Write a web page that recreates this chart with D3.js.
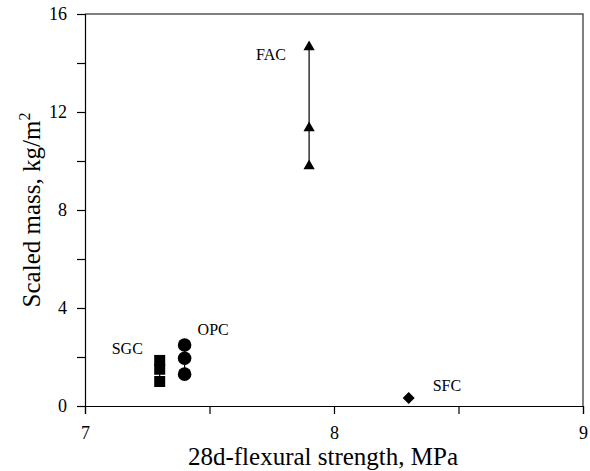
<!DOCTYPE html>
<html>
<head>
<meta charset="utf-8">
<script src="https://cdn.jsdelivr.net/npm/d3@7"></script>
<style>
  body { margin: 0; background: #fff; }
  text { font-family: "Liberation Serif", "Times New Roman", serif; fill: #000; }
</style>
</head>
<body>
<script>
var w = 590, h = 471;
var margin = { left: 85, right: 7, top: 14, bottom: 65 };

// strength (MPa) and scaled mass (kg/m2) per mix
var facX = [7.9, 7.9, 7.9],  facY = [14.65, 11.35, 9.8];
var opcX = [7.4, 7.4, 7.4],  opcY = [2.49, 1.95, 1.3];
var sgcX = [7.3, 7.3, 7.3],  sgcY = [1.86, 1.5, 1.0];
var sfcX = [8.3],            sfcY = [0.33];

var xTicks = [7, 8, 9], xMinor = [7.5, 8.5];
var yTicks = [0, 4, 8, 12, 16], yMinor = [2, 6, 10, 14];

var series = [
  { name: 'FAC', x: facX, y: facY, sym: d3.symbolTriangle, size: 55, rot: 0, lab: [-53, 13] },
  { name: 'OPC', x: opcX, y: opcY, sym: d3.symbolCircle, size: 145, rot: 0, lab: [13, -10] },
  { name: 'SGC', x: sgcX, y: sgcY, sym: d3.symbolSquare, size: 121, rot: 0, lab: [-48, -6] },
  { name: 'SFC', x: sfcX, y: sfcY, sym: d3.symbolSquare, size: 72, rot: 45, lab: [24, -7] }
];

var svg = d3.select('body').append('svg')
  .attr('width', w)
  .attr('height', h);

var x = d3.scaleLinear().domain([7, 9]).range([margin.left, w - margin.right]);
var y = d3.scaleLinear().domain([0, 16]).range([h - margin.bottom, margin.top]);

// frame on top and right
svg.append('path')
  .attr('d', 'M' + x(7) + ',' + y(16) + 'H' + x(9) + 'V' + y(0))
  .attr('fill', 'none')
  .attr('stroke', '#555')
  .attr('stroke-width', 1.5);

var xAxis = svg.append('g')
  .attr('transform', 'translate(0,' + y(0) + ')')
  .call(d3.axisBottom(x).tickValues(xTicks.concat(xMinor)).tickSize(8).tickPadding(12)
    .tickFormat(function(d) { return xTicks.indexOf(d) >= 0 ? d : ''; }));

var yAxis = svg.append('g')
  .attr('transform', 'translate(' + x(7) + ',0)')
  .call(d3.axisLeft(y).tickValues(yTicks.concat(yMinor)).tickSize(8).tickPadding(10)
    .tickFormat(function(d) { return yTicks.indexOf(d) >= 0 ? d : ''; }));

[xAxis, yAxis].forEach(function(g) {
  g.select('.domain').attr('stroke', '#000').attr('stroke-width', 1.2);
  g.selectAll('.tick line').attr('stroke', '#000').attr('stroke-width', 1.2);
  g.selectAll('.tick text')
    .style('font-family', '"Liberation Serif", serif')
    .style('font-size', '18px')
    .attr('fill', '#000');
});

var line = d3.line()
  .x(function(d) { return x(d[0]); })
  .y(function(d) { return y(d[1]); });

series.forEach(function(s) {
  var pts = s.x.map(function(v, i) { return [v, s.y[i]]; });
  if (pts.length > 1) {
    svg.append('path')
      .attr('d', line(pts))
      .attr('fill', 'none')
      .attr('stroke', '#000')
      .attr('stroke-width', 1.2);
  }
  svg.selectAll(null)
    .data(pts)
    .enter().append('path')
      .attr('d', d3.symbol().type(s.sym).size(s.size))
      .attr('transform', function(d) {
        return 'translate(' + [x(d[0]), y(d[1])] + ')rotate(' + s.rot + ')';
      })
      .attr('fill', '#000');

  var top = pts[0];
  svg.append('text')
    .attr('x', x(top[0]) + s.lab[0])
    .attr('y', y(top[1]) + s.lab[1])
    .style('font-size', '16px')
    .text(s.name);
});

svg.append('text')
  .attr('x', 323)
  .attr('y', 465)
  .attr('text-anchor', 'middle')
  .style('font-size', '25px')
  .text('28d-flexural strength, MPa');

var yt = svg.append('text')
  .attr('transform', 'translate(40,' + ((y(0) + y(16)) / 2) + ')rotate(-90)')
  .attr('text-anchor', 'middle')
  .style('font-size', '25px');
yt.append('tspan').text('Scaled mass, kg/m');
yt.append('tspan').attr('dy', -10).style('font-size', '16px').text('2');
</script>
</body>
</html>
